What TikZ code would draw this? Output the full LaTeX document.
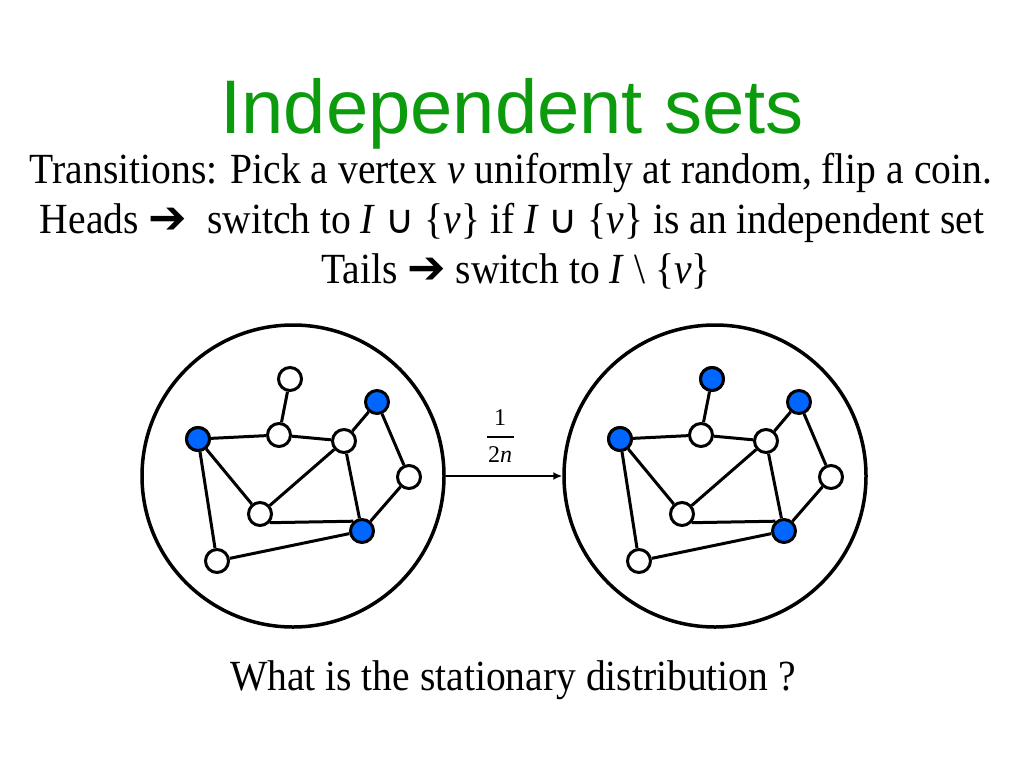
\documentclass[tikz,border=0pt]{standalone}
\usepackage{fontspec}
\setmainfont{Liberation Serif}
\newfontfamily\titlefont{Liberation Sans}
\newfontfamily\bodyfont[FakeStretch=0.92]{Liberation Serif}
\newfontfamily\symfont{DejaVu Sans}
\usetikzlibrary{arrows.meta}
\definecolor{titlegreen}{RGB}{12,155,12}
\definecolor{vblue}{RGB}{0,102,255}
\tikzset{
  vtx/.style={circle,draw=black,line width=3pt,fill=white,minimum size=23pt,inner sep=0pt},
  sel/.style={vtx,fill=vblue},
  edge/.style={line width=3pt},
  ring/.style={circle,draw=black,line width=3.5pt,minimum size=302pt,inner sep=0pt},
  body/.style={font=\bodyfont\fontsize{43}{47}\selectfont,anchor=base,inner sep=0pt},
  fracpart/.style={font=\fontsize{24}{26}\selectfont,inner sep=0pt},
}
\newcommand{\arr}{{\symfont\fontsize{46}{46}\selectfont ➔}}
\newcommand{\un}{{\symfont\fontsize{40}{40}\selectfont ∪}}
\begin{document}
\begin{tikzpicture}[x=1pt,y=-1pt]
\useasboundingbox (0,0) rectangle (1024,768);
\node[font=\titlefont\fontsize{76}{80}\selectfont,text=titlegreen,anchor=base,inner sep=0pt] (title) at (512,133) {Independent sets};
\node[body] (l1) at (511,183) {Transitions: Pick a vertex \textit{v} uniformly at random, flip a coin.};
\node[body] (l2) at (512,233) {Heads \arr\ \ switch to \textit{I} \un\ \{\textit{v}\} if \textit{I} \un\ \{\textit{v}\} is an independent set};
\node[body] (l3) at (516,283) {Tails \arr\ switch to \textit{I} \textbackslash\ \{\textit{v}\}};
\node[body] (q) at (513,690) {What is the stationary distribution ?};

\node[ring] (C1) at (293,476) {};
\node[ring] (C2) at (715,476) {};
\foreach \p/\dx in {L/0,R/422}{
  \begin{scope}[xshift=\dx]
  \node[vtx] (\p A) at (290,379) {};
  \node[vtx] (\p B) at (198,439) {};
  \node[vtx] (\p C) at (279,435) {};
  \node[vtx] (\p D) at (344,441) {};
  \node[sel] (\p E) at (377,402) {};
  \node[vtx] (\p F) at (409,477) {};
  \node[vtx] (\p G) at (260,514) {};
  \node[sel] (\p H) at (362,531) {};
  \node[vtx] (\p K) at (217,561) {};
  \end{scope}
}
\node[sel] at (LB) {};
\node[sel] at (RA) {};
\node[sel] at (RB) {};
\foreach \p in {L,R}{
  \draw[edge] (\p A) -- (\p C);
  \draw[edge] (\p B) -- (\p C);
  \draw[edge] (\p C) -- (\p D);
  \draw[edge] (\p D) -- (\p E);
  \draw[edge] (\p E) -- (\p F);
  \draw[edge] (\p F) -- (\p H);
  \draw[edge] (\p D) -- (\p H);
  \draw[edge] (\p D) -- (\p G);
  \draw[edge] (\p B) -- (\p G);
  \draw[edge] (\p G.-42) -- (\p H.131);
  \draw[edge] (\p B) -- (\p K);
  \draw[edge] (\p K) -- (\p H);
}
\draw[line width=2.4pt,-{Latex[length=9pt,width=8pt]}] (C1.east) -- (C2.west);
\node[fracpart] (num) at (500,418) {1};
\node[fracpart] (den) at (500,455) {2\textit{n}};
\coordinate (barL) at (487,437);
\coordinate (barR) at (514,437);
\draw[line width=1.4pt] (barL) -- (barR);
\end{tikzpicture}
\end{document}
